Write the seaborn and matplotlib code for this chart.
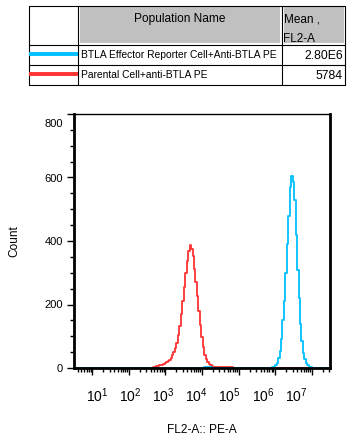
import numpy as np
import pandas as pd
import matplotlib
matplotlib.use('Agg')
import matplotlib.pyplot as plt
import matplotlib.ticker as mticker
import matplotlib.transforms as mtransforms
import seaborn as sns

### 데이터
pop_names = ['BTLA Effector Reporter Cell+Anti-BTLA PE', 'Parental Cell+anti-BTLA PE']
pop_means = ['2.80E6', '5784']
pop_colors = ['#00BFFF', '#FF3333']

# 빨간 히스토그램: log10(FL2-A) 채널, count
red_log = [0.5, 2.64,
           2.68, 2.72, 2.76, 2.80, 2.84, 2.88, 2.92, 2.96, 3.00, 3.04,
           3.08, 3.12, 3.16, 3.20, 3.24, 3.28, 3.32, 3.36, 3.40, 3.44,
           3.48, 3.52, 3.56, 3.60, 3.64, 3.68, 3.72, 3.76, 3.80, 3.84,
           3.88, 3.92, 3.96, 4.00, 4.04, 4.08, 4.12, 4.16, 4.20, 4.24,
           4.28, 4.32, 4.36, 4.40, 4.44, 4.48, 4.52, 4.56, 4.60, 4.64,
           4.68, 4.72, 4.76, 4.80, 4.84,
           4.88, 7.5]
red_count = [0, 0,
             3, 4, 5, 6, 8, 9, 11, 13, 15, 18,
             22, 26, 33, 40, 51, 64, 80, 104, 131, 170,
             210, 255, 298, 338, 368, 388, 376, 352, 312, 270,
             226, 180, 136, 98, 66, 42, 28, 18, 12, 8,
             5, 4, 3, 3, 3, 2, 3, 2, 3, 2,
             2, 3, 2, 2, 2,
             0, 0]

# 파란 히스토그램
blue_log = [0.5, 4.04, 4.08, 4.12, 4.16, 4.20, 4.24, 4.28, 5.86,
            5.90, 5.94, 5.98, 6.02, 6.06, 6.10, 6.14, 6.18, 6.22, 6.26,
            6.30, 6.34, 6.38, 6.42, 6.46, 6.50, 6.54, 6.58, 6.62, 6.66,
            6.70, 6.74, 6.78, 6.82, 6.86, 6.90, 6.94, 6.98, 7.02,
            7.06, 7.5]
blue_count = [0, 0, 2, 3, 4, 3, 2, 0, 0,
              1, 2, 4, 8, 16, 30, 55, 92, 150, 210,
              300, 390, 480, 570, 605, 585, 530, 420, 310, 220,
              140, 85, 48, 28, 15, 8, 4, 2, 1,
              0, 0]

y_ticks = [0, 200, 400, 600, 800]
x_decades = [1, 2, 3, 4, 5, 6, 7]
# FlowJo 라벨이 눈금과 어긋나 있음 (px 단위 이동)
x_label_shift = [4.7, 1.3, -2.1, -5.5, -8.9, -12.3, -15.7]

red_df = pd.DataFrame({'FL2': 10 ** np.array(red_log), 'Count': red_count})
blue_df = pd.DataFrame({'FL2': 10 ** np.array(blue_log), 'Count': blue_count})

sns.set_style('ticks')
plt.rcParams['font.family'] = ['Liberation Sans', 'DejaVu Sans']
plt.rcParams['text.color'] = 'black'
plt.rcParams['axes.labelcolor'] = 'black'
plt.rcParams['xtick.color'] = 'black'
plt.rcParams['ytick.color'] = 'black'
plt.rcParams['axes.edgecolor'] = 'black'

W, H = 355, 444
fig = plt.figure(figsize=(W / 100, H / 100), dpi=100)
ax = fig.add_axes([74 / W, 1 - 368 / H, 256 / W, 254 / H])

sns.lineplot(data=red_df, x='FL2', y='Count', color=pop_colors[1], lw=1.3,
             drawstyle='steps-mid', sort=False, estimator=None, ax=ax)
sns.lineplot(data=blue_df, x='FL2', y='Count', color=pop_colors[0], lw=1.3,
             drawstyle='steps-mid', sort=False, estimator=None, ax=ax)

ax.set_xscale('log')
ax.set_xlim(10 ** 0.5, 10 ** 7.5)
ax.set_ylim(0, 800)

# x축 눈금
ax.xaxis.set_major_locator(mticker.FixedLocator([10 ** d for d in x_decades]))
ax.xaxis.set_major_formatter(mticker.FixedFormatter([r'$\mathregular{10^{%d}}$' % d for d in x_decades]))
ax.xaxis.set_minor_locator(mticker.LogLocator(base=10, subs=np.arange(2, 10), numticks=50))
ax.xaxis.set_minor_formatter(mticker.NullFormatter())
ax.tick_params(axis='x', which='major', length=5, width=1, pad=8, labelsize=10)
ax.tick_params(axis='x', which='minor', length=3, width=1)
for lab, dx in zip(ax.get_xticklabels(), x_label_shift):
    lab.set_transform(lab.get_transform() + mtransforms.ScaledTranslation(dx / 100, 0, fig.dpi_scale_trans))

# y축 눈금
ax.set_yticks(y_ticks)
ax.yaxis.set_minor_locator(mticker.MultipleLocator(50))
ax.tick_params(axis='y', which='major', length=5, width=1, pad=3, labelsize=8)
ax.tick_params(axis='y', which='minor', length=3, width=1)
ylabs = ax.get_yticklabels()
ylabs[-1].set_transform(ylabs[-1].get_transform() + mtransforms.ScaledTranslation(0, -0.09, fig.dpi_scale_trans))

for s in ['left', 'bottom', 'right']:
    ax.spines[s].set_linewidth(2)
ax.spines['top'].set_linewidth(1)
ax.spines['top'].set_visible(True)
ax.spines['right'].set_visible(True)

ax.set_xlabel('FL2-A:: PE-A', fontsize=8.6)
ax.set_ylabel('Count', fontsize=8.6)
ax.xaxis.set_label_coords(0.5, -0.222)
ax.yaxis.set_label_coords(-0.21, 0.5)

# 위쪽 범례 표
tb = fig.add_axes([0, 0, 1, 1], zorder=-1)
tb.set_xlim(0, W)
tb.set_ylim(H, 0)
tb.axis('off')

left, c1, c2, right = 29, 78, 282, 345
rows = [6, 45, 65, 85]
tb.add_patch(plt.Rectangle((c1 + 2, rows[0] + 1.5), c2 - c1 - 4, rows[1] - rows[0] - 3, color='#c0c0c0', lw=0))
tb.add_patch(plt.Rectangle((c2 + 2, rows[0] + 1.5), right - c2 - 3.5, rows[1] - rows[0] - 3, color='#c0c0c0', lw=0))
for yy in rows:
    tb.plot([left, right], [yy, yy], color='black', lw=0.8)
for xx in [left, c1, c2, right]:
    tb.plot([xx, xx], [rows[0], rows[-1]], color='black', lw=0.8)

tb.text((c1 + c2) / 2, 19, 'Population Name', ha='center', va='center', fontsize=8.6)
tb.text(c2 + 1.5, 19, 'Mean ,', ha='left', va='center', fontsize=8.5)
tb.text(c2 + 1.5, 38.5, 'FL2-A', ha='left', va='center', fontsize=8.5)

for i in range(2):
    ymid = (rows[i + 1] + rows[i + 2]) / 2
    tb.plot([left, c1], [ymid - 1, ymid - 1], color=pop_colors[i], lw=2.8, solid_capstyle='butt')
    tb.text(c1 + 3, ymid, pop_names[i], ha='left', va='center', fontsize=7.4)
    tb.text(right - 2, ymid + 1, pop_means[i], ha='right', va='center', fontsize=8.8)

fig.savefig('out.png', dpi=100)
